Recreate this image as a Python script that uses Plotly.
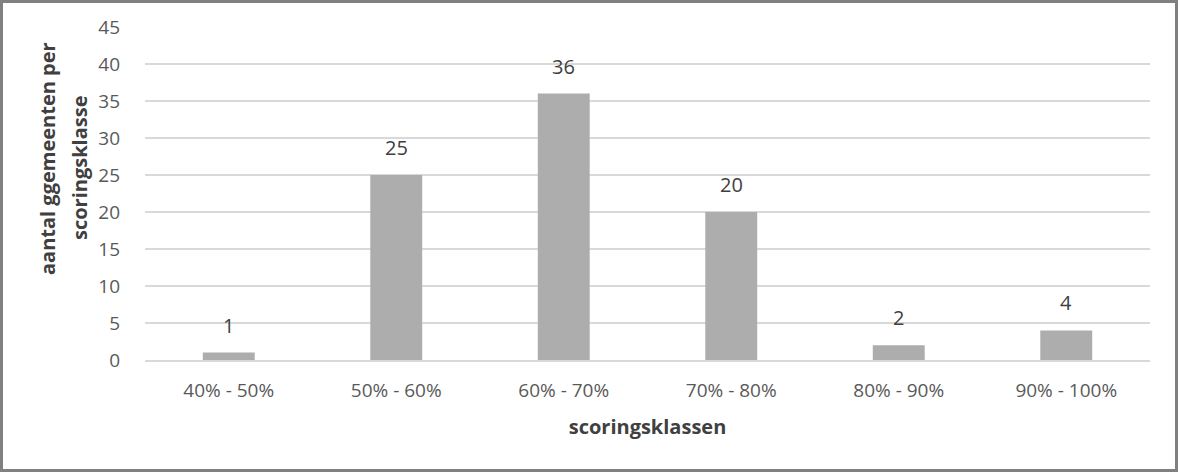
import plotly.graph_objects as go

categories = ["40% - 50%", "50% - 60%", "60% - 70%", "70% - 80%", "80% - 90%", "90% - 100%"]
values = [1, 25, 36, 20, 2, 4]
y_title_lines = ["aantal ggemeenten per", "scoringsklasse"]
x_title = "scoringsklassen"

W, H = 1178, 472
L, R, T, B = 145, 28, 27, 112
pw, ph = W - L - R, H - T - B
FONT = "Open Sans"


def px2x(p):
    return (p - L) / pw


def py2y(p):
    return 1 - (p - T) / ph


fig = go.Figure(go.Bar(
    x=categories, y=values,
    marker=dict(color="#ADADAD", line=dict(width=0)),
    hoverinfo="x+y",
))

for c, v in zip(categories, values):
    fig.add_annotation(x=c, y=v, xref="x", yref="y", text=str(v),
                       showarrow=False, yanchor="bottom", yshift=12,
                       font=dict(size=20, color="#404040", family=FONT))

# y-axis title lines
fig.add_annotation(x=px2x(48), y=py2y(159), xref="paper", yref="paper",
                   text="<b>" + y_title_lines[0] + "</b>", textangle=-90,
                   showarrow=False, xanchor="center", yanchor="middle",
                   font=dict(size=20, color="#404040", family=FONT))
fig.add_annotation(x=px2x(79), y=py2y(168), xref="paper", yref="paper",
                   text="<b>" + y_title_lines[1] + "</b>", textangle=-90,
                   showarrow=False, xanchor="center", yanchor="middle",
                   font=dict(size=20, color="#404040", family=FONT))

fig.add_shape(type="rect", xref="paper", yref="paper",
              x0=px2x(1.5), x1=px2x(W - 1.5), y0=py2y(H - 1.5), y1=py2y(1.5),
              line=dict(color="#808080", width=3), layer="above")

fig.update_layout(
    width=W, height=H,
    margin=dict(l=L, r=R, t=T, b=B),
    paper_bgcolor="white", plot_bgcolor="white",
    bargap=0.69,
    showlegend=False,
    font=dict(family=FONT, color="#595959", size=20),
    xaxis=dict(
        showgrid=False, showline=True, linecolor="#D9D9D9", linewidth=1.5,
        tickfont=dict(size=19, color="#595959"),
        ticklabelstandoff=12,
        title=dict(text="<b>" + x_title + "</b>", font=dict(size=20, color="#404040"), standoff=18),
        automargin=False,
    ),
    yaxis=dict(
        range=[0, 45], dtick=5, showgrid=True, gridcolor="#D9D9D9", gridwidth=1.5,
        zeroline=False, showline=False,
        tickfont=dict(size=19, color="#595959"),
        ticklabelstandoff=24,
        automargin=False,
    ),
)

fig.write_html("out.html", config={"displayModeBar": False},
               post_script="document.body.style.margin='0';document.body.style.padding='0';")
